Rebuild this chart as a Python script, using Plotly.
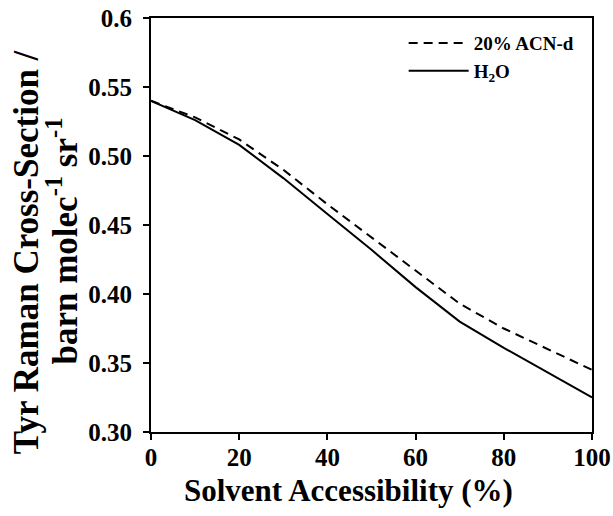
import plotly.graph_objects as go

# Solvent accessibility (%) and Tyr Raman cross-sections (barn molec^-1 sr^-1)
accessibility = [0, 10, 20, 30, 40, 50, 60, 70, 80, 90, 100]
acn_d20 = [0.540, 0.528, 0.512, 0.490, 0.465, 0.441, 0.417, 0.393, 0.375, 0.360, 0.345]
h2o = [0.540, 0.526, 0.508, 0.484, 0.458, 0.432, 0.405, 0.380, 0.361, 0.343, 0.325]

x_ticks = [0, 20, 40, 60, 80, 100]
y_ticks = [0.30, 0.35, 0.40, 0.45, 0.50, 0.55, 0.60]
y_tick_text = ["0.30", "0.35", "0.40", "0.45", "0.50", "0.55", "0.6"]

SERIF = "Liberation Serif"

fig = go.Figure()
fig.add_trace(go.Scatter(
    x=accessibility, y=acn_d20, mode="lines", name="20% ACN-d",
    line=dict(color="black", width=2, dash="9px,6px"),
))
fig.add_trace(go.Scatter(
    x=accessibility, y=h2o, mode="lines", name="H<sub>2</sub>O",
    line=dict(color="black", width=2),
))

axis_common = dict(
    showline=True, linecolor="black", linewidth=2, mirror=True,
    ticks="outside", ticklen=6, tickwidth=2, tickcolor="black",
    showgrid=False, zeroline=False, automargin=False,
    tickfont=dict(family=SERIF, size=25, color="black", weight="bold"),
)

fig.update_xaxes(range=[0, 100], tickvals=x_ticks, ticklabelstandoff=-4, **axis_common)
fig.update_yaxes(range=[0.30, 0.60], tickvals=y_ticks, ticktext=y_tick_text,
                 ticklabelstandoff=6, **axis_common)

fig.add_annotation(
    text="Solvent Accessibility (%)", xref="paper", yref="paper",
    x=0.447, y=-0.141, xanchor="center", yanchor="middle", showarrow=False,
    font=dict(family=SERIF, size=31, color="black", weight="bold"),
)
# two-line y-axis title, one annotation per line for tight line spacing
ytitle_font = dict(family=SERIF, size=35, color="black", weight="bold")
fig.add_annotation(
    text="Tyr Raman Cross-Section /",
    xref="paper", yref="paper", x=-0.282, y=0.436, xanchor="center", yanchor="middle",
    textangle=-90, showarrow=False, font=ytitle_font,
)
fig.add_annotation(
    text="barn molec<sup>-1</sup> sr<sup>-1</sup>",
    xref="paper", yref="paper", x=-0.200, y=0.462, xanchor="center", yanchor="middle",
    textangle=-90, showarrow=False, font=ytitle_font,
)

fig.update_layout(
    width=613, height=516,
    margin=dict(l=151, r=21, t=18, b=84),
    paper_bgcolor="white", plot_bgcolor="white",
    showlegend=True,
    legend=dict(
        x=0.972, y=0.985, xanchor="right", yanchor="top",
        bgcolor="rgba(0,0,0,0)", borderwidth=0,
        font=dict(family=SERIF, size=19, color="black", weight="bold"),
        tracegroupgap=0, itemwidth=60,
    ),
)

fig.write_html("out.html")
